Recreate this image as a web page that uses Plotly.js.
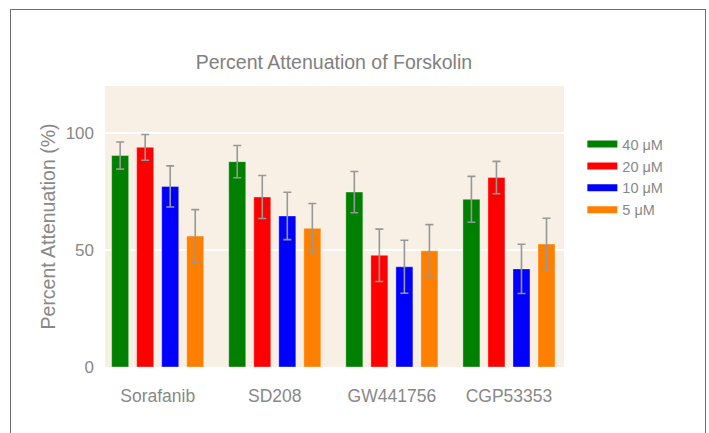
<!DOCTYPE html>
<html>
<head>
<meta charset="utf-8">
<script src="https://cdn.plot.ly/plotly-3.0.1.min.js"></script>
<style>
html,body{margin:0;padding:0;background:#fff;}
#frame{position:absolute;left:10px;top:9px;width:696px;height:440px;border:1px solid #6e6e6e;box-sizing:border-box;}
#chart{position:absolute;left:0;top:0;width:709px;height:433px;}
</style>
</head>
<body>
<div id="frame"></div>
<div id="chart"></div>
<script>
const categories = ['Sorafanib', 'SD208', 'GW441756', 'CGP53353'];
const seriesNames = ['40 \u03bcM', '20 \u03bcM', '10 \u03bcM', '5 \u03bcM'];
const colors = ['#008000', '#ff0000', '#0000ff', '#ff7f00'];
const v40 = [90.3, 87.7, 74.7, 71.6];
const e40 = [5.8, 6.9, 8.8, 9.8];
const v20 = [93.8, 72.6, 47.7, 80.9];
const e20 = [5.5, 9.2, 11.2, 6.9];
const v10 = [77.1, 64.5, 42.8, 41.9];
const e10 = [8.8, 10.1, 11.3, 10.5];
const v5 = [55.9, 59.2, 49.6, 52.5];
const e5 = [11.3, 10.6, 11.2, 11.0];

const values = [v40, v20, v10, v5];
const errors = [e40, e20, e10, e5];

const traces = [];
values.forEach((v, i) => {
  traces.push({
    type: 'bar',
    x: categories,
    y: v,
    name: seriesNames[i],
    showlegend: false,
    marker: {color: colors[i], line: {color: 'rgba(255,255,255,0.35)', width: 1}},
    error_y: {type: 'data', array: errors[i], visible: true, color: '#979797', thickness: 1.6, width: 4}
  });
});
values.forEach((v, i) => {
  traces.push({
    type: 'scatter',
    mode: 'lines',
    x: [null],
    y: [null],
    name: seriesNames[i],
    line: {color: colors[i], width: 7},
    hoverinfo: 'skip'
  });
});

const layout = {
  width: 709,
  height: 433,
  margin: {l: 105, r: 145, t: 86, b: 66},
  paper_bgcolor: 'rgba(0,0,0,0)',
  plot_bgcolor: '#f8f0e5',
  font: {family: 'Liberation Sans, Arial, sans-serif', color: '#888888', size: 14},
  title: {text: 'Percent Attenuation of Forskolin', x: 0.471, xanchor: 'center', y: 0.857, yanchor: 'middle',
          font: {size: 19.5, color: '#808080'}},
  barmode: 'group',
  bargap: 0.145,
  bargroupgap: 0.32,
  xaxis: {
    type: 'category',
    range: [-0.45, 3.47],
    showgrid: false,
    zeroline: false,
    showline: false,
    ticks: '',
    tickfont: {size: 17.5, color: '#888888'},
    ticklabelstandoff: 16
  },
  yaxis: {
    range: [0, 120],
    tickvals: [0, 50, 100],
    ticktext: ['0', '50', '100'],
    showgrid: true,
    gridcolor: '#ffffff',
    gridwidth: 1.5,
    zeroline: false,
    showline: false,
    ticks: '',
    tickfont: {size: 17, color: '#888888'},
    ticklabelstandoff: 10,
    title: {text: 'Percent Attenuation (%)', font: {size: 19.5, color: '#888888'}, standoff: 4}
  },
  legend: {
    x: 1.04, xanchor: 'left',
    y: 0.85, yanchor: 'top',
    bgcolor: 'rgba(0,0,0,0)',
    font: {size: 14.5, color: '#888888'},
    tracegroupgap: 0
  },
  showlegend: true
};

Plotly.newPlot('chart', traces, layout, {displayModeBar: false, staticPlot: true});
</script>
</body>
</html>
